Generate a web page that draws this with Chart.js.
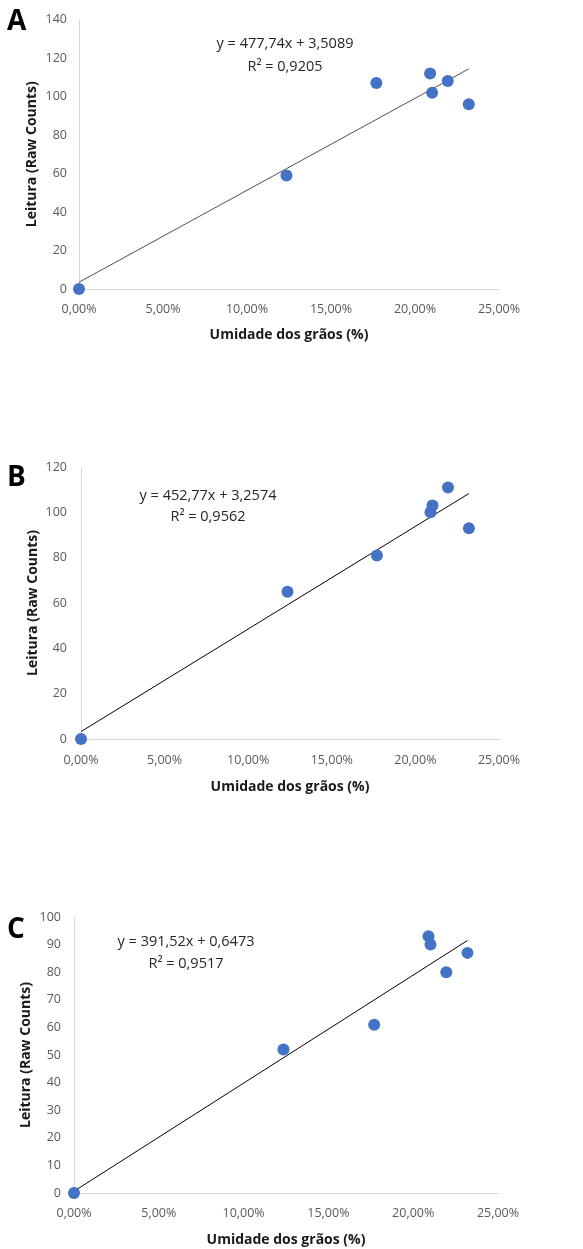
<!DOCTYPE html>
<html>
<head>
<meta charset="utf-8">
<script src="https://cdn.jsdelivr.net/npm/chart.js@4.4.1/dist/chart.umd.min.js"></script>
<style>
  body { margin: 0; background: #fff; width: 583px; height: 1249px; position: relative; overflow: hidden; }
  canvas { position: absolute; left: 0; }
</style>
</head>
<body>
<canvas id="chartA" width="583" height="350" style="top:0px"></canvas>
<canvas id="chartB" width="583" height="360" style="top:440px"></canvas>
<canvas id="chartC" width="583" height="359" style="top:890px"></canvas>
<script>
// moisture content of the grains (fraction), same samples in all three panels
const moisture = [0, 0.1235, 0.177, 0.209, 0.2102, 0.2195, 0.232];
const readingsA = [0, 59, 107, 112, 102, 108, 96];
const readingsB = [0, 65, 81, 100, 103, 111, 93];
const readingsC = [0, 52, 61, 93, 90, 80, 87];

// linear trendlines as printed on the chart
const slopes = [477.74, 452.77, 391.52];
const intercepts = [3.5089, 3.2574, 0.6473];
const equationLabels = ['y = 477,74x + 3,5089', 'y = 452,77x + 3,2574', 'y = 391,52x + 0,6473'];
const r2Labels = ['R² = 0,9205', 'R² = 0,9562', 'R² = 0,9517'];

const panelLetters = ['A', 'B', 'C'];
const yMax = [140, 120, 100];
const yStep = [20, 20, 10];
const xMax = 0.25;
const xStep = 0.05;

const xTitle = 'Umidade dos grãos (%)';
const yTitle = 'Leitura (Raw Counts)';

// layout of each canvas (pixels, relative to its canvas)
const layouts = [
  { id: 'chartA', h: 350, left: 79, right: 499, top: 15, bottom: 289, tickY: 309, xTitleY: 335, yTitleX: 32, gap: 12, letterY: 22, eqX: 285, eqY: 44, eqGap: 23, trendColor: '#505050' },
  { id: 'chartB', h: 360, left: 81, right: 499, top: 27, bottom: 299, tickY: 320, xTitleY: 347, yTitleX: 33, gap: 14, letterY: 38, eqX: 208, eqY: 56, eqGap: 21, trendColor: '#000' },
  { id: 'chartC', h: 359, left: 74, right: 498, top: 27, bottom: 303, tickY: 323, xTitleY: 350, yTitleX: 26, gap: 13, letterY: 40, eqX: 186, eqY: 52, eqGap: 22, trendColor: '#000' }
];
const readings = [readingsA, readingsB, readingsC];

const tickFont = { family: '"Open Sans"', size: 12.5 };
const titleFont = { family: '"Open Sans"', size: 14, weight: 'bold' };

const annotate = {
  id: 'annotate',
  afterDraw(chart, args, opts) {
    const ctx = chart.ctx;
    ctx.save();
    ctx.textBaseline = 'middle';
    ctx.fillStyle = '#000';
    ctx.textAlign = 'left';
    ctx.font = 'bold 28px "Open Sans"';
    ctx.fillText(opts.letter, 7, opts.letterY);
    ctx.fillStyle = '#262626';
    ctx.textAlign = 'center';
    ctx.font = '14.5px "Open Sans"';
    ctx.fillText(opts.eq, opts.eqX, opts.eqY);
    ctx.fillText(opts.r2, opts.eqX, opts.eqY + opts.eqGap);
    ctx.restore();
  }
};

function pct(v) {
  return (v * 100).toFixed(2).replace('.', ',') + '%';
}

layouts.forEach((L, i) => {
  const xEnd = Math.max(...moisture);
  const tickPad = L.tickY - L.bottom - tickFont.size * 1.2 / 2;
  const xTitlePad = L.h - L.xTitleY - titleFont.size * 1.2 / 2;
  const yTitlePad = L.yTitleX - titleFont.size * 1.2 / 2;

  new Chart(document.getElementById(L.id), {
    type: 'scatter',
    data: {
      datasets: [{
        data: moisture.map((x, k) => ({ x: x, y: readings[i][k] })),
        backgroundColor: '#4472C4',
        borderColor: '#4472C4',
        borderWidth: 0,
        pointRadius: 6,
        clip: false
      }, {
        data: [
          { x: 0, y: intercepts[i] },
          { x: xEnd, y: intercepts[i] + slopes[i] * xEnd }
        ],
        showLine: true,
        borderColor: L.trendColor,
        borderWidth: 1,
        pointRadius: 0
      }]
    },
    options: {
      responsive: false,
      animation: false,
      layout: { padding: { left: 0, top: L.top, right: 583 - L.right, bottom: 0 } },
      plugins: {
        legend: { display: false },
        tooltip: { enabled: false },
        annotate: {
          letter: panelLetters[i], letterY: L.letterY,
          eq: equationLabels[i], r2: r2Labels[i],
          eqX: L.eqX, eqY: L.eqY, eqGap: L.eqGap
        }
      },
      scales: {
        x: {
          type: 'linear',
          min: 0, max: xMax,
          grid: { display: false, drawTicks: false },
          border: { display: true, color: '#d9d9d9', width: 1 },
          ticks: { stepSize: xStep, padding: tickPad, color: '#595959', font: tickFont, maxRotation: 0, callback: v => pct(v) },
          title: { display: true, text: xTitle, color: '#1a1a1a', font: titleFont, padding: { top: 0, bottom: xTitlePad } },
          afterFit: s => { s.height = L.h - L.bottom; }
        },
        y: {
          min: 0, max: yMax[i],
          grid: { display: false, drawTicks: false },
          border: { display: true, color: '#d9d9d9', width: 1 },
          ticks: { stepSize: yStep[i], padding: L.gap, color: '#595959', font: tickFont },
          title: { display: true, text: yTitle, color: '#1a1a1a', font: titleFont, padding: { top: yTitlePad, bottom: 0 } },
          afterFit: s => { s.width = L.left; }
        }
      }
    },
    plugins: [annotate]
  });
});
</script>
</body>
</html>
